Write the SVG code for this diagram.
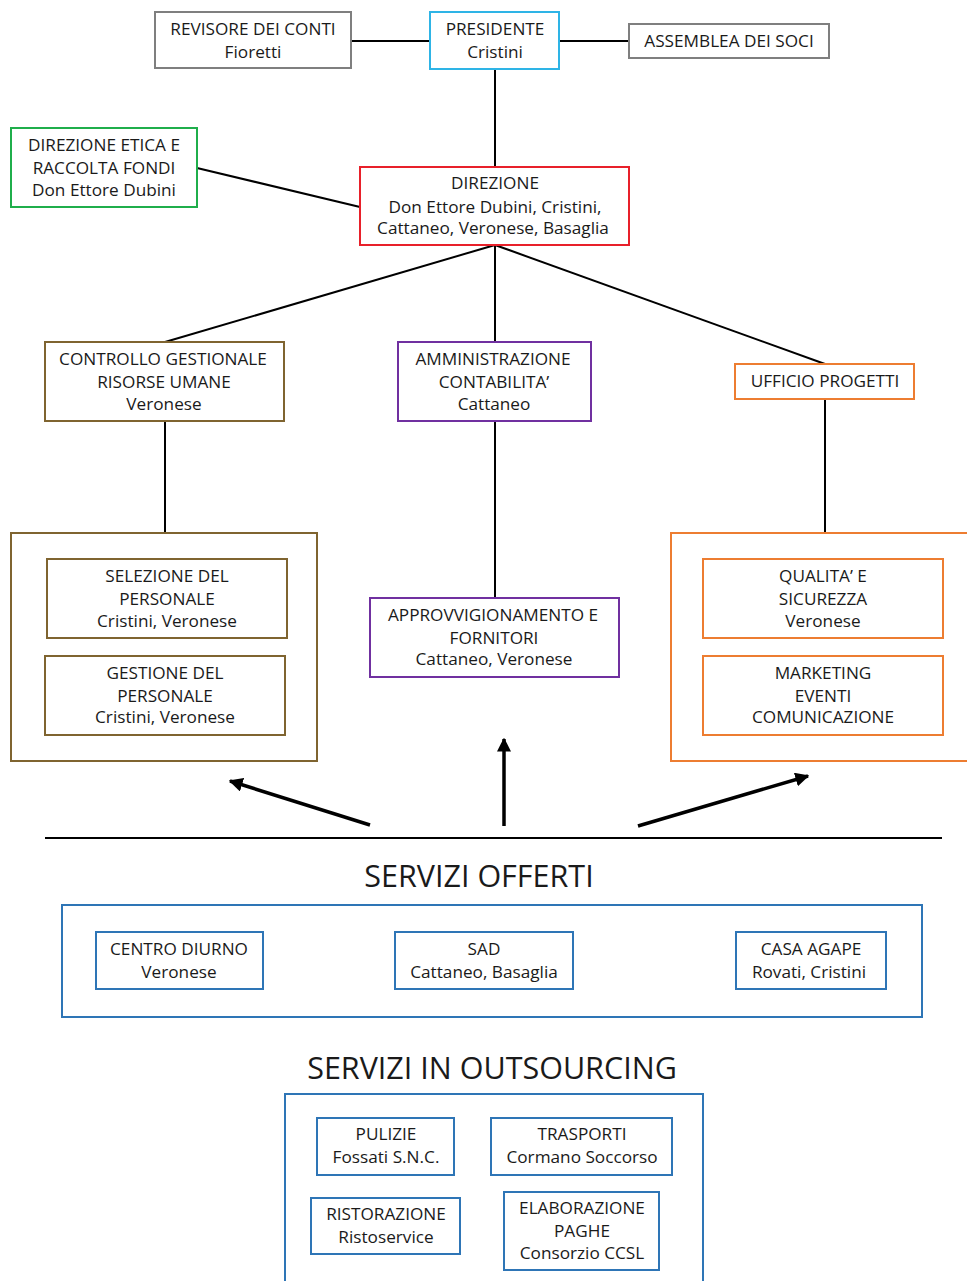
<svg xmlns="http://www.w3.org/2000/svg" width="967" height="1281" viewBox="0 0 967 1281">
<defs>
<style>
text{font-family:"Open Sans","Liberation Sans",Arial,sans-serif;font-size:17.2px;fill:#1a1a1a;text-anchor:middle;dominant-baseline:central}
rect{fill:#fff;stroke-width:2}
.gray{stroke:#7f7f7f}.cyan{stroke:#2eb4e6}.green{stroke:#1fae4b}.red{stroke:#e8202a}
.brown{stroke:#7f6430}.purple{stroke:#7030a0}.orange{stroke:#ed7d31}.blue{stroke:#2e75b6}
.big{font-size:30.5px}
.conn line{stroke:#000;stroke-width:2}
.arr line{stroke:#000;stroke-width:3.5}
</style>
<marker id="ah" viewBox="0 0 10 10" refX="9" refY="5" markerWidth="4" markerHeight="4" orient="auto" markerUnits="strokeWidth"><path d="M0,0 L10,5 L0,10 z" fill="#000"/></marker>
</defs>
<rect x="0" y="0" width="967" height="1281" style="fill:#fff;stroke:none"/>
<g id="connectors" class="conn">
<line x1="351" y1="41" x2="430" y2="41"/>
<line x1="559" y1="41" x2="629" y2="41"/>
<line x1="495" y1="69" x2="495" y2="167"/>
<line x1="197" y1="168" x2="360" y2="207"/>
<line x1="495" y1="245" x2="165" y2="342"/>
<line x1="495" y1="245" x2="495" y2="342"/>
<line x1="495" y1="245" x2="825" y2="364"/>
<line x1="165" y1="421" x2="165" y2="533"/>
<line x1="495" y1="421" x2="495" y2="598"/>
<line x1="825" y1="399" x2="825" y2="533"/>
</g>
<g id="arrows" class="arr">
<line x1="370" y1="825" x2="230" y2="781" marker-end="url(#ah)"/>
<line x1="504" y1="826" x2="504" y2="739" marker-end="url(#ah)"/>
<line x1="638" y1="826" x2="808" y2="776" marker-end="url(#ah)"/>
<line x1="45" y1="838" x2="942" y2="838" style="stroke-width:2"/>
</g>
<g id="revisore"><rect class="gray" x="155" y="12" width="196" height="56"/><text x="253" y="28">REVISORE DEI CONTI</text><text x="253" y="51">Fioretti</text></g>
<g id="presidente"><rect class="cyan" x="430" y="12" width="129" height="57"/><text x="495" y="28">PRESIDENTE</text><text x="495" y="51">Cristini</text></g>
<g id="assemblea"><rect class="gray" x="629" y="24" width="200" height="34"/><text x="729" y="40">ASSEMBLEA DEI SOCI</text></g>
<g id="etica"><rect class="green" x="11" y="128" width="186" height="79"/><text x="104" y="144">DIREZIONE ETICA E</text><text x="104" y="167">RACCOLTA FONDI</text><text x="104" y="189">Don Ettore Dubini</text></g>
<g id="direzione"><rect class="red" x="360" y="167" width="269" height="78"/><text x="495" y="182">DIREZIONE</text><text x="495" y="206">Don Ettore Dubini, Cristini,</text><text x="493" y="227">Cattaneo, Veronese, Basaglia</text></g>
<g id="controllo"><rect class="brown" x="45" y="342" width="239" height="79"/><text x="163" y="358">CONTROLLO GESTIONALE</text><text x="164" y="381">RISORSE UMANE</text><text x="164" y="403">Veronese</text></g>
<g id="amministrazione"><rect class="purple" x="398" y="342" width="193" height="79"/><text x="493" y="358">AMMINISTRAZIONE</text><text x="494" y="381">CONTABILITA’</text><text x="494" y="403">Cattaneo</text></g>
<g id="progetti"><rect class="orange" x="735" y="364" width="179" height="35"/><text x="825" y="380">UFFICIO PROGETTI</text></g>
<g id="risorse-gruppo"><rect class="brown" x="11" y="533" width="306" height="228"/></g>
<g id="selezione"><rect class="brown" x="47" y="559" width="240" height="79"/><text x="167" y="575">SELEZIONE DEL</text><text x="167" y="598">PERSONALE</text><text x="167" y="620">Cristini, Veronese</text></g>
<g id="gestione"><rect class="brown" x="45" y="656" width="240" height="79"/><text x="165" y="672">GESTIONE DEL</text><text x="165" y="695">PERSONALE</text><text x="165" y="716">Cristini, Veronese</text></g>
<g id="approvvigionamento"><rect class="purple" x="370" y="598" width="249" height="79"/><text x="493" y="614">APPROVVIGIONAMENTO E</text><text x="494" y="637">FORNITORI</text><text x="494" y="658">Cattaneo, Veronese</text></g>
<g id="progetti-gruppo"><rect class="orange" x="671" y="533" width="310" height="228"/></g>
<g id="qualita"><rect class="orange" x="703" y="559" width="240" height="79"/><text x="823" y="575">QUALITA’ E</text><text x="823" y="598">SICUREZZA</text><text x="823" y="620">Veronese</text></g>
<g id="marketing"><rect class="orange" x="703" y="656" width="240" height="79"/><text x="823" y="672">MARKETING</text><text x="823" y="695">EVENTI</text><text x="823" y="716">COMUNICAZIONE</text></g>
<g id="servizi-offerti"><text class="big" x="479" y="875">SERVIZI OFFERTI</text><rect class="blue" x="62" y="905" width="860" height="112"/></g>
<g id="centro-diurno"><rect class="blue" x="96" y="932" width="167" height="57"/><text x="179" y="948">CENTRO DIURNO</text><text x="179" y="971">Veronese</text></g>
<g id="sad"><rect class="blue" x="395" y="932" width="178" height="57"/><text x="484" y="948">SAD</text><text x="484" y="971">Cattaneo, Basaglia</text></g>
<g id="casa-agape"><rect class="blue" x="736" y="932" width="150" height="57"/><text x="811" y="948">CASA AGAPE</text><text x="809" y="971">Rovati, Cristini</text></g>
<g id="servizi-outsourcing"><text class="big" x="492" y="1067">SERVIZI IN OUTSOURCING</text><rect class="blue" x="285" y="1094" width="418" height="200"/></g>
<g id="pulizie"><rect class="blue" x="317" y="1118" width="137" height="57"/><text x="386" y="1133">PULIZIE</text><text x="386" y="1156">Fossati S.N.C.</text></g>
<g id="trasporti"><rect class="blue" x="491" y="1118" width="181" height="57"/><text x="582" y="1133">TRASPORTI</text><text x="582" y="1156">Cormano Soccorso</text></g>
<g id="ristorazione"><rect class="blue" x="311" y="1198" width="149" height="56"/><text x="386" y="1213">RISTORAZIONE</text><text x="386" y="1236">Ristoservice</text></g>
<g id="paghe"><rect class="blue" x="504" y="1192" width="155" height="78"/><text x="582" y="1207">ELABORAZIONE</text><text x="582" y="1230">PAGHE</text><text x="582" y="1252">Consorzio CCSL</text></g>
</svg>
